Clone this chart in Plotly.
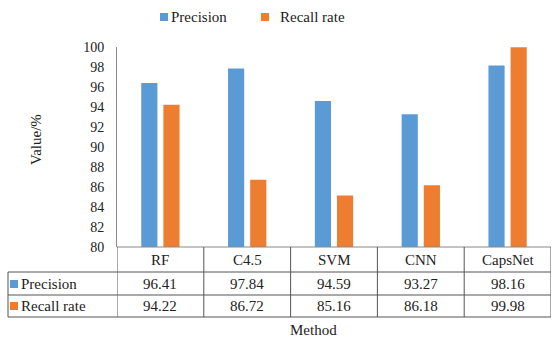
import plotly.graph_objects as go

methods = ["RF", "C4.5", "SVM", "CNN", "CapsNet"]
precision = [96.41, 97.84, 94.59, 93.27, 98.16]
recall = [94.22, 86.72, 85.16, 86.18, 99.98]
series_names = ["Precision", "Recall rate"]
colors = ["#5B9BD5", "#ED7D31"]
y_ticks = list(range(80, 101, 2))

FONT = "Liberation Serif, Times New Roman, serif"
W, H = 553, 339
L, R, T, B = 117, 2, 47, 92
pw = W - L - R
ph = H - T - B

def py(pix):
    return ((H - B) - pix) / ph

def px(pix):
    return (pix - L) / pw

fig = go.Figure()
for name, vals, c in zip(series_names, [precision, recall], colors):
    fig.add_trace(go.Bar(x=methods, y=vals, name=name, marker_color=c,
                         marker_line_width=0, showlegend=False))

fig.update_layout(
    width=W, height=H,
    margin=dict(l=L, r=R, t=T, b=B, autoexpand=False),
    paper_bgcolor="white", plot_bgcolor="white",
    font=dict(family=FONT, size=15, color="#222"),
    barmode="group", bargap=0.49, bargroupgap=0.27,
    showlegend=False,
    xaxis=dict(range=[-0.5, 4.5], showticklabels=False, showline=False,
               showgrid=False, zeroline=False, ticks="", automargin=False),
    yaxis=dict(range=[80, 100], tickvals=y_ticks, showline=True, linecolor="#888",
               linewidth=1, showgrid=False, zeroline=False, ticks="", automargin=False,
               tickfont=dict(size=14, family=FONT, color="#222"), ticklabelstandoff=9),
)

def text(x, xref, ypix, s, xanchor="center", angle=0):
    fig.add_annotation(x=x, xref=xref, y=py(ypix), yref="paper", text=s,
                       xanchor=xanchor, yanchor="middle", textangle=angle,
                       showarrow=False, font=dict(size=15, family=FONT, color="#222"))

# legend (drawn manually to match the reference spacing)
legend_items = [(160, 169), (261, 278)]
for (sx, tx), name, c in zip(legend_items, series_names, colors):
    fig.add_shape(type="rect", xref="paper", yref="paper", x0=px(sx), x1=px(sx + 8),
                  y0=py(21), y1=py(13), fillcolor=c, line_width=0)
    text(px(tx), "paper", 17, name, xanchor="left")

line = dict(color="#555", width=1)
row_lines = [247, 272, 295, 317]
fig.add_shape(type="line", xref="x", yref="paper", x0=-0.5, x1=4.5,
              y0=py(row_lines[0]), y1=py(row_lines[0]), line=dict(color="#888", width=1))
for r in row_lines[1:]:
    fig.add_shape(type="line", xref="paper", yref="paper", x0=px(8), x1=1,
                  y0=py(r), y1=py(r), line=line)
for i in range(len(methods) + 1):
    fig.add_shape(type="line", xref="x", yref="paper", x0=i - 0.5, x1=i - 0.5,
                  y0=py(row_lines[0]), y1=py(row_lines[-1]), line=line)
fig.add_shape(type="line", xref="paper", yref="paper", x0=px(8), x1=px(8),
              y0=py(row_lines[1]), y1=py(row_lines[-1]), line=line)

row_centers = [260, 284, 306]
for i, m in enumerate(methods):
    text(m, "x", row_centers[0], m)
    text(m, "x", row_centers[1], f"{precision[i]:.2f}")
    text(m, "x", row_centers[2], f"{recall[i]:.2f}")

for k, (name, c) in enumerate(zip(series_names, colors)):
    yc = row_centers[k + 1]
    fig.add_shape(type="rect", xref="paper", yref="paper", x0=px(10), x1=px(18),
                  y0=py(yc + 4), y1=py(yc - 4), fillcolor=c, line_width=0)
    text(px(19), "paper", yc, name, xanchor="left")

text(px(313), "paper", 330, "Method")
text(px(36), "paper", 140, "Value/%", angle=-90)

fig.write_html("out.html", config={"displayModeBar": False},
               post_script="document.body.style.margin='0';")
